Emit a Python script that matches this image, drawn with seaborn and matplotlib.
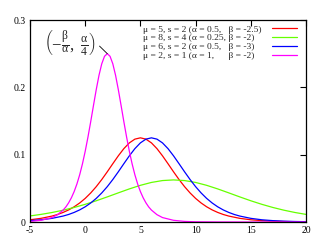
import matplotlib
matplotlib.use("Agg")
import matplotlib.pyplot as plt
import seaborn as sns
import pandas as pd

# ---- data (logistic densities) ----
labels = [
    "μ = 5, s = 2 (α = 0.5,   β = -2.5)",
    "μ = 8, s = 4 (α = 0.25, β = -2)",
    "μ = 6, s = 2 (α = 0.5,   β = -3)",
    "μ = 2, s = 1 (α = 1,      β = -2)",
]
colors = ["#ff0000", "#66ff00", "#0000ff", "#ff00ff"]

red_x = [-5, -4, -3, -2.5, -2, -1.5, -1, -0.5, 0, 0.5, 1, 1.5, 2, 2.5, 3, 3.5, 4, 4.5, 5,
         5.5, 6, 6.5, 7, 7.5, 8, 8.5, 9, 9.5, 10, 10.5, 11, 11.5, 12, 12.5, 13, 14, 15,
         16, 17, 18, 19, 20]
red_y = [0.0033, 0.00543, 0.00883, 0.0112, 0.01423, 0.01797, 0.02259, 0.02825, 0.03505,
         0.04315, 0.0525, 0.06307, 0.07458, 0.08656, 0.0983, 0.10895, 0.1175, 0.12307, 0.125,
         0.12307, 0.1175, 0.10895, 0.0983, 0.08656, 0.07458, 0.06307, 0.0525, 0.04315,
         0.03505, 0.02825, 0.02259, 0.01797, 0.01423, 0.0112, 0.00883, 0.00543, 0.0033,
         0.00203, 0.00123, 0.00075, 0.000455, 0.000276]

green_x = list(range(-5, 21))
green_y = [0.0090, 0.0113, 0.01412, 0.01753, 0.02157, 0.02625, 0.03153, 0.03729, 0.04328,
           0.04915, 0.05447, 0.05875, 0.06154, 0.0625, 0.06154, 0.05875, 0.05447, 0.04915,
           0.04328, 0.03729, 0.03153, 0.02625, 0.02157, 0.01753, 0.01412, 0.0113]

blue_x = [-5, -4, -3, -2, -1.5, -1, -0.5, 0, 0.5, 1, 1.5, 2, 2.5, 3, 3.5, 4, 4.5, 5, 5.5, 6,
          6.5, 7, 7.5, 8, 8.5, 9, 9.5, 10, 10.5, 11, 11.5, 12, 12.5, 13, 13.5, 14, 15, 16,
          17, 18, 19, 20]
blue_y = [0.00203, 0.0033, 0.00543, 0.00883, 0.0112, 0.01423, 0.01797, 0.02259, 0.02825,
          0.03505, 0.04315, 0.0525, 0.06307, 0.07458, 0.08656, 0.0983, 0.10895, 0.1175,
          0.12307, 0.125, 0.12307, 0.1175, 0.10895, 0.0983, 0.08656, 0.07458, 0.06307,
          0.0525, 0.04315, 0.03505, 0.02825, 0.02259, 0.01797, 0.01423, 0.0112, 0.00883,
          0.00543, 0.0033, 0.00203, 0.00123, 0.00075, 0.000455]

mag_x = [-5, -4, -3, -2.5, -2, -1.75, -1.5, -1.25, -1, -0.75, -0.5, -0.25, 0, 0.25, 0.5,
         0.75, 1, 1.25, 1.5, 1.75, 2, 2.25, 2.5, 2.75, 3, 3.25, 3.5, 3.75, 4, 4.25, 4.5,
         4.75, 5, 5.25, 5.5, 5.75, 6, 6.5, 7, 8, 9, 10, 12, 15, 20]
mag_y = [0.0009, 0.0025, 0.0066, 0.0109, 0.0177, 0.0224, 0.0285, 0.0360, 0.0452, 0.0565,
         0.0701, 0.0863, 0.1050, 0.1261, 0.1491, 0.1731, 0.1966, 0.2179, 0.2350, 0.2461,
         0.25, 0.2461, 0.2350, 0.2179, 0.1966, 0.1731, 0.1491, 0.1261, 0.1050, 0.0863,
         0.0701, 0.0565, 0.0452, 0.0360, 0.0285, 0.0224, 0.0177, 0.0109, 0.0066, 0.0025,
         0.0009, 0.0003, 0.00005, 0.0, 0.0]

x_ticks = [-5, 0, 5, 10, 15, 20]
y_ticks = [0, 0.1, 0.2, 0.3]
y_tick_labels = ["0", "0.1", "0.2", "0.3"]
peak = (2, 0.25)

series = [(red_x, red_y), (green_x, green_y), (blue_x, blue_y), (mag_x, mag_y)]

sns.set_style("white")
plt.rcParams["font.family"] = ["Liberation Serif", "DejaVu Serif"]
plt.rcParams["mathtext.fontset"] = "custom"
plt.rcParams["mathtext.rm"] = "Liberation Serif"
plt.rcParams["mathtext.it"] = "Liberation Serif"
plt.rcParams["mathtext.default"] = "regular"

DPI = 100
fig = plt.figure(figsize=(3.29, 2.49), dpi=DPI)
ax = fig.add_axes([30 / 329, 27 / 249, 276 / 329, 202 / 249])

for (xs, ys), lab, col in zip(series, labels, colors):
    df = pd.DataFrame({"x": xs, "y": ys})
    sns.lineplot(data=df, x="x", y="y", ax=ax, color=col, linewidth=0.9, label=lab)

ax.set_xlim(-5, 20)
ax.set_ylim(0, 0.3)
ax.set_xticks(x_ticks)
ax.set_xticklabels([str(t) for t in x_ticks])
ax.set_yticks(y_ticks)
ax.set_yticklabels(y_tick_labels)
ax.set_xlabel("")
ax.set_ylabel("")
ax.tick_params(direction="in", length=4, width=0.8, top=True, right=True,
               labelsize=7, pad=3, colors="black")
for sp in ax.spines.values():
    sp.set_visible(True)
    sp.set_color("black")
    sp.set_linewidth(0.9)

leg = ax.legend(loc="upper right", bbox_to_anchor=(0.967, 0.975), frameon=False,
                fontsize=6.8, markerfirst=False, labelspacing=0.02, handlelength=2.6,
                handletextpad=1.2, borderaxespad=0, borderpad=0)

# left-align the label texts while keeping the sample lines in one column
fig.canvas.draw()
renderer = fig.canvas.get_renderer()
widths = [t.get_window_extent(renderer).width for t in leg.get_texts()]
maxw = max(widths)
rows = leg._legend_handle_box.get_children()[0].get_children()
for row, w in zip(rows, widths):
    row.sep = row.sep + (maxw - w) * 72.0 / DPI

ax.annotate(r"$\left(-\frac{β}{α},\ \frac{α}{4}\right)$", xy=peak,
            xytext=(1.0, 0.266), textcoords="data", ha="right", va="center",
            fontsize=12,
            arrowprops=dict(arrowstyle="-", color="black", lw=0.6,
                            shrinkA=0, shrinkB=0, relpos=(1, 0.5)))

fig.savefig("out.png", dpi=DPI)
